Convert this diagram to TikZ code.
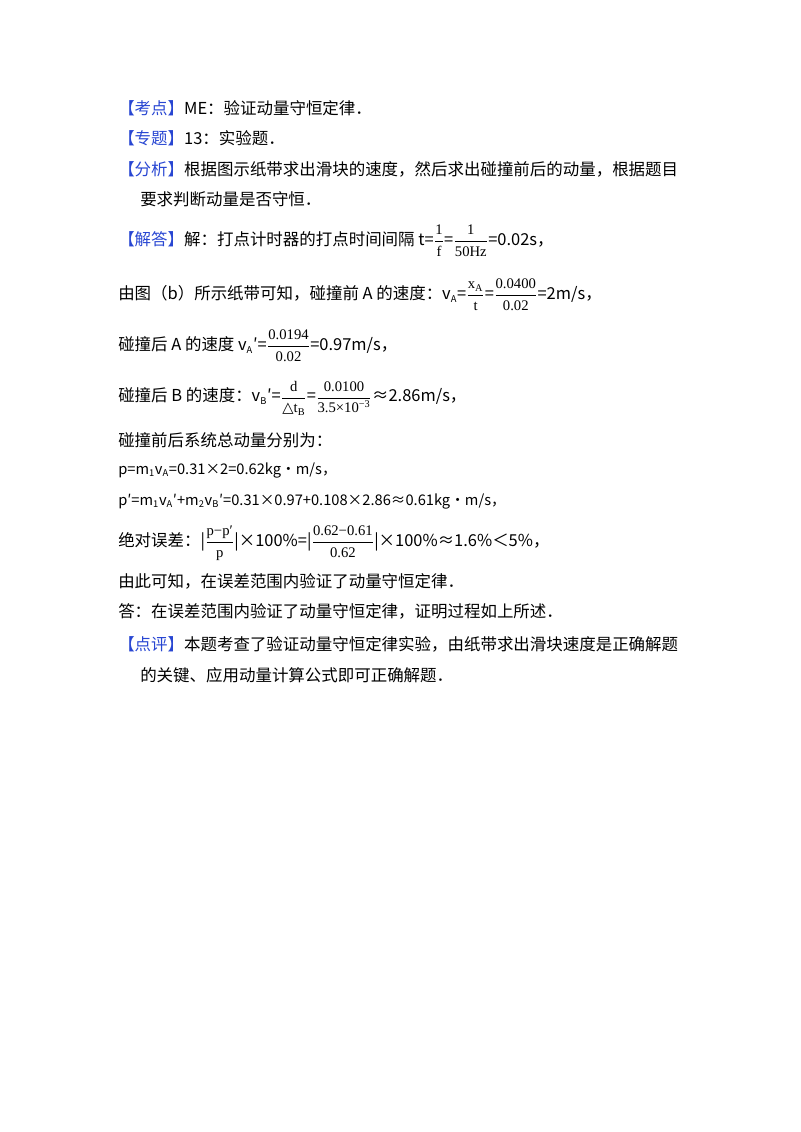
\documentclass[tikz,border=0pt]{standalone}
\usepackage{fontspec}
\setmainfont{Noto Sans CJK SC}
\newfontfamily\serfam{Liberation Serif}
\newfontfamily\djv{DejaVu Sans}
\usepackage{amsmath}
\definecolor{kblue}{RGB}{40,70,210}
\begin{document}
\begin{tikzpicture}[x=0.75pt,y=-0.75pt,
  ln/.style={anchor=west,inner sep=0pt,font=\fontsize{12.35pt}{14pt}\selectfont},
  tag/.style={text=kblue}]
\useasboundingbox (0,0) rectangle (800,1132);
\newcommand{\fr}[2]{$\dfrac{\text{\fontsize{11pt}{12pt}\serfam #1}}{\text{\fontsize{11pt}{12pt}\serfam #2}}$}
\newcommand{\sbx}[1]{\textsubscript{\scriptsize #1}}
\node[ln] (l1) at (118,108) {\textcolor{kblue}{【考点】}ME：验证动量守恒定律．};
\node[ln] (l2) at (118,138) {\textcolor{kblue}{【专题】}13：实验题．};
\node[ln] (l3) at (118,169) {\textcolor{kblue}{【分析】}根据图示纸带求出滑块的速度，然后求出碰撞前后的动量，根据题目};
\node[ln] (l4) at (140,199) {要求判断动量是否守恒．};
\node[ln] (l5) at (118,241) {\textcolor{kblue}{【解答】}解：打点计时器的打点时间间隔 t=\fr{1}{f}=\fr{1}{50Hz}=0.02s，};
\node[ln] (l6) at (118,295) {由图（b）所示纸带可知，碰撞前 A 的速度：v\sbx{A}=\fr{x\textsubscript{A}}{t}=\fr{0.0400}{0.02}=2m/s，};
\node[ln] (l7) at (118,346) {碰撞后 A 的速度 v\sbx{A}′=\fr{0.0194}{0.02}=0.97m/s，};
\node[ln] (l8) at (118,398) {碰撞后 B 的速度：v\sbx{B}′=\fr{d}{{\djv △}t\textsubscript{B}}=\fr{0.0100}{3.5×10\textsuperscript{−3}}≈2.86m/s，};
\node[ln] (l9) at (118,440) {碰撞前后系统总动量分别为：};
\node[ln,font=\fontsize{11pt}{13pt}\selectfont] (l10) at (118,470) {p=m\sbx{1}v\sbx{A}=0.31×2=0.62kg•m/s，};
\node[ln,font=\fontsize{11pt}{13pt}\selectfont] (l11) at (118,501) {p′=m\sbx{1}v\sbx{A}′+m\sbx{2}v\sbx{B}′=0.31×0.97+0.108×2.86≈0.61kg•m/s，};
\node[ln] (l12) at (118,543) {绝对误差：|\fr{p−p′}{p}|×100\%=|\fr{0.62−0.61}{0.62}|×100\%≈1.6\%＜5\%，};
\node[ln] (l13) at (118,581) {由此可知，在误差范围内验证了动量守恒定律．};
\node[ln] (l14) at (118,611) {答：在误差范围内验证了动量守恒定律，证明过程如上所述．};
\node[ln] (l15) at (118,644) {\textcolor{kblue}{【点评】}本题考查了验证动量守恒定律实验，由纸带求出滑块速度是正确解题};
\node[ln] (l16) at (140,675) {的关键、应用动量计算公式即可正确解题．};
\end{tikzpicture}
\end{document}
